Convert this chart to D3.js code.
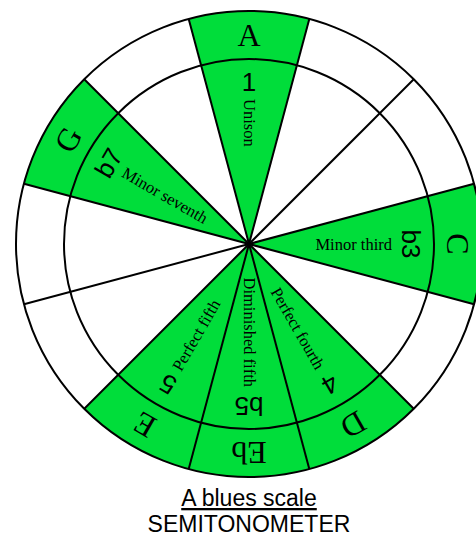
<!DOCTYPE html>
<html>
<head>
<meta charset="utf-8">
<script src="https://cdn.jsdelivr.net/npm/d3@7"></script>
<style>
  body { margin: 0; background: #fff; }
  svg { display: block; }
</style>
</head>
<body>
<svg id="chart" width="476" height="535"></svg>
<script>
// one step per semitone, 12 per octave
const steps = 12;
const scaleSteps = [0, 3, 5, 6, 7, 10];
const noteNames = ["A", "C", "D", "Eb", "E", "G"];
const degreeLabels = ["1", "b3", "4", "b5", "5", "b7"];
const intervalNames = ["Unison", "Minor third", "Perfect fourth", "Diminished fifth", "Perfect fifth", "Minor seventh"];
const titleLines = ["A blues scale", "SEMITONOMETER"];

const svg = d3.select("#chart");
const cx = 249, cy = 244;
const outerR = 233, innerR = 185;
const green = "#00dd3a";

const angle = d3.scaleLinear().domain([0, steps]).range([0, 2 * Math.PI]);
const deg = s => angle(s) * 180 / Math.PI;

const g = svg.append("g").attr("transform", `translate(${cx},${cy})`);

const notes = scaleSteps.map((s, i) => ({
  step: s, note: noteNames[i], degree: degreeLabels[i], name: intervalNames[i]
}));

const arc = d3.arc()
  .innerRadius(0)
  .outerRadius(outerR)
  .startAngle(d => angle(d.step - 0.5))
  .endAngle(d => angle(d.step + 0.5));

g.selectAll("path.sector")
  .data(notes)
  .join("path")
  .attr("class", "sector")
  .attr("d", arc)
  .attr("fill", green);

g.selectAll("circle.ring")
  .data([outerR, innerR])
  .join("circle")
  .attr("class", "ring")
  .attr("r", d => d)
  .attr("fill", "none")
  .attr("stroke", "#000")
  .attr("stroke-width", 2);

g.selectAll("line.spoke")
  .data(d3.range(steps))
  .join("line")
  .attr("class", "spoke")
  .attr("x1", 0).attr("y1", 0)
  .attr("x2", i => outerR * Math.sin(angle(i + 0.5)))
  .attr("y2", i => -outerR * Math.cos(angle(i + 0.5)))
  .attr("stroke", "#000")
  .attr("stroke-width", 2);

// note letters in the outer ring
g.selectAll("text.note")
  .data(notes)
  .join("text")
  .attr("class", "note")
  .attr("transform", d => `rotate(${deg(d.step)}) translate(0,${-(outerR + innerR) / 2})`)
  .attr("text-anchor", "middle")
  .attr("dominant-baseline", "central")
  .attr("font-family", "Liberation Serif, Times New Roman, serif")
  .attr("font-size", 32)
  .text(d => d.note);

// scale degrees just inside the inner circle
g.selectAll("text.degree")
  .data(notes)
  .join("text")
  .attr("class", "degree")
  .attr("transform", d => `rotate(${deg(d.step)}) translate(0,-162)`)
  .attr("text-anchor", "middle")
  .attr("dominant-baseline", "central")
  .attr("font-family", "Liberation Sans, Arial, sans-serif")
  .attr("font-size", 26)
  .text(d => d.degree);

// interval names along the radius, flipped on the left so they stay readable
const rightSide = d => d.step > 0 && d.step <= steps / 2;
g.selectAll("text.name")
  .data(notes)
  .join("text")
  .attr("class", "name")
  .attr("transform", d => rightSide(d)
    ? `rotate(${deg(d.step) - 90}) translate(143,0)`
    : `rotate(${deg(d.step) + 90}) translate(-145,0)`)
  .attr("text-anchor", d => rightSide(d) ? "end" : "start")
  .attr("dominant-baseline", "central")
  .attr("font-family", "Liberation Serif, Times New Roman, serif")
  .attr("font-size", 16.5)
  .text(d => d.name);

svg.selectAll("text.title")
  .data(titleLines)
  .join("text")
  .attr("class", "title")
  .attr("x", 249)
  .attr("y", (d, i) => 506 + i * 26)
  .attr("text-anchor", "middle")
  .attr("font-family", "Liberation Sans, Arial, sans-serif")
  .attr("font-size", 23)
  .style("text-decoration", (d, i) => i === 0 ? "underline" : null)
  .text(d => d);
</script>
</body>
</html>
